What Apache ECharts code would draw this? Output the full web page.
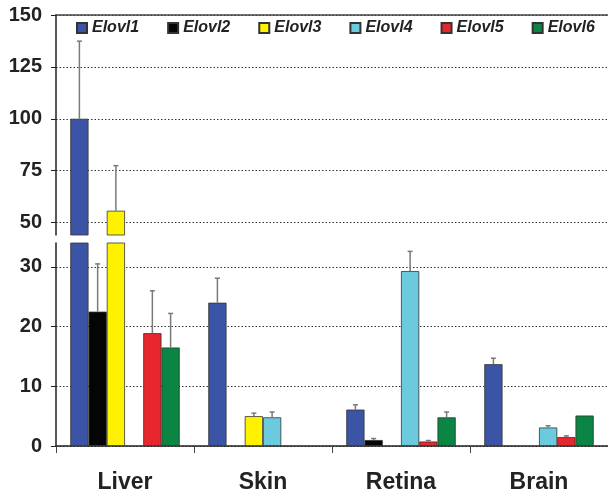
<!DOCTYPE html>
<html>
<head>
<meta charset="utf-8">
<script src="https://cdn.jsdelivr.net/npm/echarts@6/dist/echarts.min.js"></script>
<style>
  html, body { margin: 0; padding: 0; background: #fff; }
  #chart { width: 608px; height: 495px; }
</style>
</head>
<body>
<div id="chart"></div>
<script>
var tissues = ['Liver', 'Skin', 'Retina', 'Brain'];
var genes = ['Elovl1', 'Elovl2', 'Elovl3', 'Elovl4', 'Elovl5', 'Elovl6'];
var colors = ['#3b54a5', '#050505', '#fff200', '#6ccadf', '#e8262d', '#0a8543'];

// mean expression per tissue (Liver, Skin, Retina, Brain)
var elovl1 = [100, 24.0, 6.1, 13.7];
var elovl2 = [22.5, 0, 1.0, 0];
var elovl3 = [55.7, 5.0, 0, 0];
var elovl4 = [0, 4.8, 29.3, 3.1];
var elovl5 = [18.9, 0, 0.75, 1.5];
var elovl6 = [16.5, 0, 4.8, 5.1];

// error bar (upward only)
var elovl1Err = [37.4, 4.1, 0.8, 1.0];
var elovl2Err = [8.0, 0, 0.25, 0];
var elovl3Err = [21.7, 0.5, 0, 0];
var elovl4Err = [0, 0.9, 3.3, 0.3];
var elovl5Err = [7.1, 0, 0.17, 0.2];
var elovl6Err = [5.7, 0, 0.9, 0];

var topTicks = [50, 75, 100, 125, 150];
var bottomTicks = [0, 10, 20, 30];
var topMin = 44, topMax = 150;   // broken axis: upper part
var bottomMin = 0, bottomMax = 34; // lower part

var values = [elovl1, elovl2, elovl3, elovl4, elovl5, elovl6];
var errors = [elovl1Err, elovl2Err, elovl3Err, elovl4Err, elovl5Err, elovl6Err];
var catGap = 0.207;

var axisFont = { fontFamily: 'Liberation Sans, Arial, sans-serif', fontWeight: 'bold', color: '#222' };

var series = [];
var errTop = [], errBottom = [];
for (var g = 0; g < genes.length; g++) {
	var common = {
		name: genes[g],
		type: 'bar',
		barGap: 0,
		barCategoryGap: (catGap * 100) + '%',
		itemStyle: { color: colors[g], borderColor: '#333', borderWidth: 0.8 },
		z: 3
	};
	series.push(Object.assign({}, common, {
		xAxisIndex: 0, yAxisIndex: 0,
		data: values[g].map(function (v) { return v > topMin ? v : null; })
	}));
	series.push(Object.assign({}, common, {
		xAxisIndex: 1, yAxisIndex: 1,
		data: values[g].map(function (v) { return v > 0 ? v : null; })
	}));
	for (var t = 0; t < tissues.length; t++) {
		var v = values[g][t], e = errors[g][t];
		if (!e) continue;
		if (v > topMin) errTop.push([t, g, v, v + e]);
		else errBottom.push([t, g, v, v + e]);
	}
}

function renderErr(params, api) {
	var cat = api.value(0), idx = api.value(1);
	var band = api.size([1, 0])[0];
	var barW = band * (1 - catGap) / genes.length;
	var base = api.coord([cat, api.value(2)]);
	var tip = api.coord([cat, api.value(3)]);
	var x = base[0] - genes.length / 2 * barW + (idx + 0.5) * barW;
	var style = { stroke: '#7a7a7a', lineWidth: 1.5 };
	return {
		type: 'group',
		children: [
			{ type: 'line', shape: { x1: x, y1: base[1], x2: x, y2: tip[1] }, style: style },
			{ type: 'line', shape: { x1: x - 2.5, y1: tip[1], x2: x + 2.5, y2: tip[1] }, style: style }
		]
	};
}

series.push({
	type: 'custom', xAxisIndex: 0, yAxisIndex: 0, z: 4,
	encode: { x: 0, y: 2 }, renderItem: renderErr, data: errTop, silent: true
});
series.push({
	type: 'custom', xAxisIndex: 1, yAxisIndex: 1, z: 4,
	encode: { x: 0, y: 2 }, renderItem: renderErr, data: errBottom, silent: true
});

var dotted = { show: true, lineStyle: { color: '#333', type: [1.5, 2], width: 1 } };

var chart = echarts.init(document.getElementById('chart'));
chart.setOption({
	animation: false,
	legend: {
		data: genes,
		left: 71,
		top: 15,
		width: 600,
		itemWidth: 10,
		itemHeight: 10,
		itemGap: 28,
		icon: 'rect',
		textStyle: { fontFamily: 'Liberation Sans, Arial, sans-serif', fontStyle: 'italic', fontWeight: 'bold', fontSize: 16, color: '#222' }
	},
	grid: [
		{ left: 56, right: -3, top: 15, height: 220 },
		{ left: 56, right: -3, top: 243, bottom: 49 }
	],
	xAxis: [
		{
			type: 'category', gridIndex: 0, data: tissues, position: 'top',
			axisLine: { lineStyle: { color: '#444', width: 1.5 } },
			axisTick: { show: false }, axisLabel: { show: false }
		},
		{
			type: 'category', gridIndex: 1, data: tissues,
			axisLine: { lineStyle: { color: '#222', width: 1.5 } },
			axisTick: { show: true, length: 7, lineStyle: { color: '#444' } },
			axisLabel: Object.assign({ fontSize: 23, margin: 25, color: '#111' }, axisFont)
		}
	],
	yAxis: [
		{
			type: 'value', gridIndex: 0, min: topMin, max: topMax,
			axisLine: { show: true, lineStyle: { color: '#222', width: 1.5 } },
			axisTick: { show: true, length: 5, customValues: topTicks, lineStyle: { color: '#222' } },
			axisLabel: Object.assign({ fontSize: 20, margin: 14, customValues: topTicks }, axisFont),
			splitLine: Object.assign({ customValues: topTicks }, dotted)
		},
		{
			type: 'value', gridIndex: 1, min: bottomMin, max: bottomMax,
			axisLine: { show: true, lineStyle: { color: '#222', width: 1.5 } },
			axisTick: { show: true, length: 5, customValues: bottomTicks, lineStyle: { color: '#222' } },
			axisLabel: Object.assign({ fontSize: 20, margin: 14, customValues: bottomTicks }, axisFont),
			splitLine: Object.assign({ customValues: bottomTicks }, dotted)
		}
	],
	series: series
});
</script>
</body>
</html>
